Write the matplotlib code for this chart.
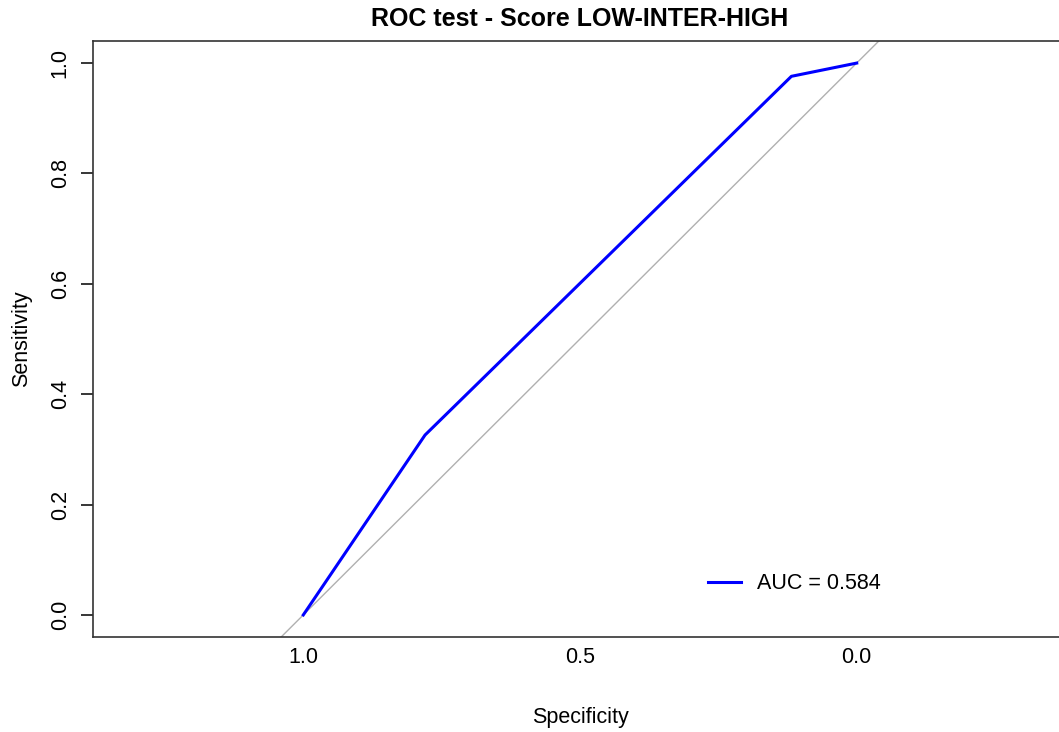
import matplotlib
matplotlib.use('Agg')
import matplotlib.pyplot as plt

# ROC points
specificity = [1.0, 0.78, 0.118, 0.0]
sensitivity = [0.0, 0.326, 0.976, 1.0]
auc_label = 'AUC = 0.584'

x_ticks = [1.0, 0.5, 0.0]
y_ticks = [0.0, 0.2, 0.4, 0.6, 0.8, 1.0]

plt.rcParams['font.family'] = ['Liberation Sans', 'DejaVu Sans']

fig = plt.figure(figsize=(10.59, 7.32), dpi=100)
ax = fig.add_axes([93 / 1059, 1 - 637 / 732, (1067 - 93) / 1059, (637 - 41) / 732])

ax.set_xlim(1.38, -0.38)
ax.set_ylim(-0.04, 1.04)

# chance diagonal, extended across the plot
ax.axline((1.0, 0.0), (0.0, 1.0), color='#b0b0b0', linewidth=1.0, zorder=1)
ax.plot(specificity, sensitivity, color='#0000ff', linewidth=2.2,
        label=auc_label, zorder=2)

ax.set_xticks(x_ticks)
ax.set_xticklabels([f'{v:.1f}' for v in x_ticks])
ax.set_yticks(y_ticks)
ax.set_yticklabels([f'{v:.1f}' for v in y_ticks], rotation=90, va='center')
ax.tick_params(axis='x', length=0, pad=7, labelsize=15.5)
ax.tick_params(axis='y', length=9, width=1.1, pad=7, labelsize=15.5)

for side in ['left', 'bottom', 'top', 'right']:
    ax.spines[side].set_linewidth(1.2)
    ax.spines[side].set_color('#333333')

ax.set_title('ROC test - Score LOW-INTER-HIGH', fontsize=18, fontweight='bold', pad=11)
ax.set_xlabel('Specificity', fontsize=15.5, labelpad=28)
ax.set_ylabel('Sensitivity', fontsize=15.5, labelpad=13)

ax.legend(loc='center left', bbox_to_anchor=(0.631, 0.089), frameon=False,
          borderpad=0, borderaxespad=0, handlelength=1.55, handletextpad=0.75,
          fontsize=15.5)

fig.savefig('out.png', dpi=100)
